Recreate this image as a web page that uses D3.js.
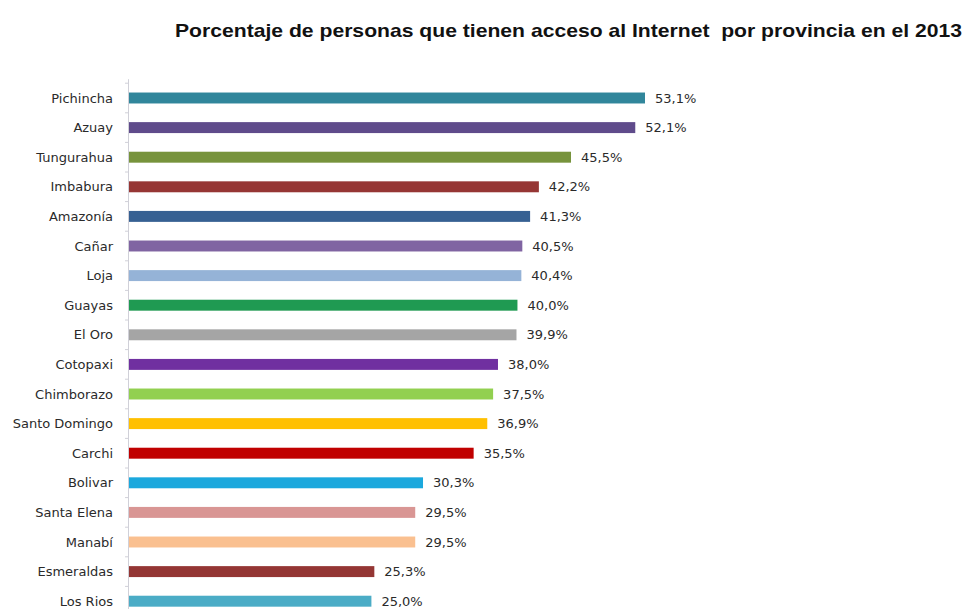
<!DOCTYPE html>
<html>
<head>
<meta charset="utf-8">
<script src="https://cdn.jsdelivr.net/npm/d3@7"></script>
<style>
  body { margin: 0; background: #fff; }
  svg { display: block; }
</style>
</head>
<body>
<div id="chart"></div>
<script>
var width = 966;
var height = 609;

var titleText = "Porcentaje de personas que tienen acceso al Internet  por provincia en el 2013";

var provinces = ["Pichincha", "Azuay", "Tungurahua", "Imbabura", "Amazonía", "Cañar", "Loja", "Guayas",
    "El Oro", "Cotopaxi", "Chimborazo", "Santo Domingo", "Carchi", "Bolivar", "Santa Elena", "Manabí",
    "Esmeraldas", "Los Rios"];
var values = [53.1, 52.1, 45.5, 42.2, 41.3, 40.5, 40.4, 40.0, 39.9, 38.0, 37.5, 36.9, 35.5, 30.3, 29.5, 29.5, 25.3, 25.0];
var barColors = ["#31869b", "#5f4b8b", "#77933c", "#963634", "#366092", "#8064a2", "#95b3d7", "#1f9a52",
    "#a5a5a5", "#7030a0", "#92d050", "#ffc000", "#c00000", "#1ba8dd", "#d99694", "#fac090",
    "#943634", "#4bacc6"];

var svg = d3.select("#chart")
    .append("svg")
      .attr("width", width)
      .attr("height", height);

svg.append("text")
    .attr("x", 175)
    .attr("y", 37)
    .attr("font-family", "Liberation Sans, Arial, sans-serif")
    .attr("font-weight", "bold")
    .attr("font-size", "19px")
    .attr("fill", "#111")
    .attr("textLength", 787)
    .attr("lengthAdjust", "spacingAndGlyphs")
    .style("white-space", "pre")
    .text(titleText);

var x = d3.scaleLinear()
    .domain([0, 53.1])
    .range([128, 645]);

var step = 29.6;
var y = d3.scaleBand()
    .domain(provinces)
    .range([98 - step / 2, 98 - step / 2 + step * provinces.length])
    .paddingInner(0.63)
    .paddingOuter(0.315);

// category axis, excel style: ticks between categories
var axisG = svg.append("g").attr("class", "y-axis");
axisG.append("line")
    .attr("x1", x(0) + 0.5).attr("x2", x(0) + 0.5)
    .attr("y1", y.range()[0] - 4).attr("y2", height)
    .attr("stroke", "#d0d0d8");
axisG.selectAll("line.tick")
    .data(d3.range(provinces.length + 1))
    .enter().append("line")
    .attr("class", "tick")
    .attr("x1", x(0) - 3).attr("x2", x(0))
    .attr("y1", function(i) { return y.range()[0] + i * step; })
    .attr("y2", function(i) { return y.range()[0] + i * step; })
    .attr("stroke", "#d0d0d8");

axisG.selectAll("text")
    .data(provinces)
    .enter().append("text")
    .attr("x", 113)
    .attr("y", function(d) { return y(d) + y.bandwidth() / 2; })
    .attr("dy", "0.35em")
    .attr("text-anchor", "end")
    .attr("font-family", "DejaVu Sans, sans-serif")
    .attr("font-size", "13px")
    .attr("fill", "#2a2a2a")
    .text(function(d) { return d; });

svg.append("g")
    .selectAll("rect")
    .data(provinces)
    .enter().append("rect")
    .attr("x", x(0) + 1)
    .attr("y", function(d) { return y(d); })
    .attr("width", function(d, i) { return x(values[i]) - x(0) - 1; })
    .attr("height", y.bandwidth())
    .attr("fill", function(d, i) { return barColors[i]; });

svg.append("g")
    .selectAll("text")
    .data(provinces)
    .enter().append("text")
    .attr("x", function(d, i) { return x(values[i]) + 10; })
    .attr("y", function(d) { return y(d) + y.bandwidth() / 2; })
    .attr("dy", "0.35em")
    .attr("font-family", "DejaVu Sans, sans-serif")
    .attr("font-size", "13px")
    .attr("fill", "#2a2a2a")
    .text(function(d, i) { return values[i].toFixed(1).replace(".", ",") + "%"; });
</script>
</body>
</html>
